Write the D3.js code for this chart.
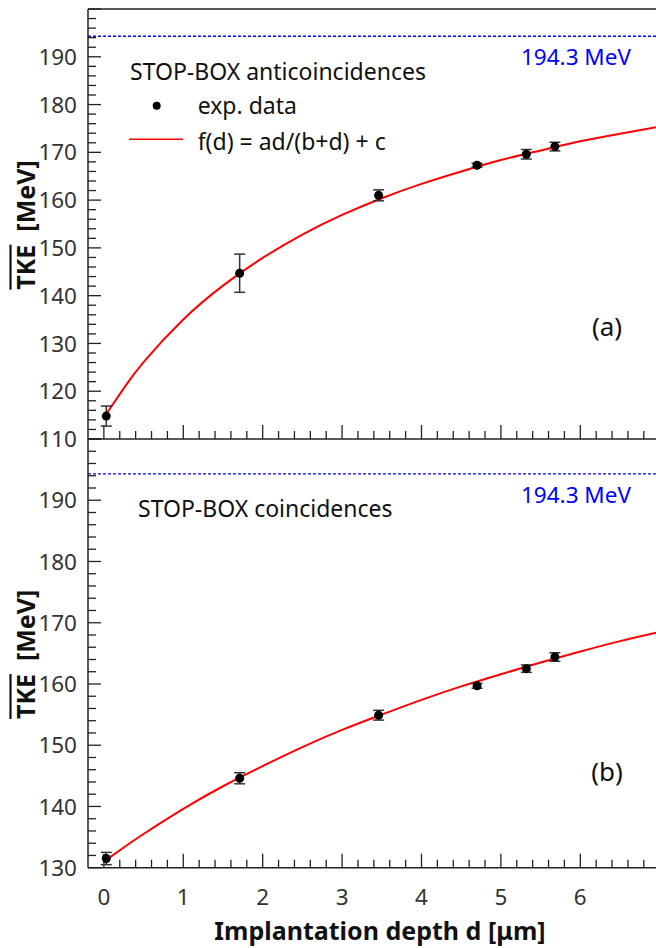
<!DOCTYPE html>
<html>
<head>
<meta charset="utf-8">
<script src="https://cdn.jsdelivr.net/npm/d3@7"></script>
<style>
  html, body { margin: 0; padding: 0; background: #fff; }
  svg { display: block; }
  text { font-family: "Noto Sans", "Open Sans", sans-serif; }
</style>
</head>
<body>
<svg id="chart" width="656" height="948"></svg>
<script>
// ---------------- data ----------------
const xTickValues = [0, 1, 2, 3, 4, 5, 6];
const xTickLabels = ["0", "1", "2", "3", "4", "5", "6"];
const yTicksTop = [110, 120, 130, 140, 150, 160, 170, 180, 190];
const yTicksBottom = [130, 140, 150, 160, 170, 180, 190];

const depth = [0.03, 1.71, 3.46, 4.70, 5.32, 5.68];
// panel (a): STOP-BOX anticoincidences
const tkeAnti = [114.8, 144.7, 161.0, 167.3, 169.6, 171.2];
const errAnti = [2.1, 4.0, 1.15, 0.4, 1.0, 0.9];
// panel (b): STOP-BOX coincidences
const tkeCoin = [131.5, 144.6, 154.9, 159.7, 162.5, 164.4];
const errCoin = [1.0, 0.9, 0.8, 0.4, 0.6, 0.7];

// fit curves f(d) = ad/(b+d) + c
const fitDepth = [0, 0.25, 0.5, 1, 1.5, 2, 2.5, 3, 3.5, 4, 4.5, 5, 5.5, 6, 6.5, 7];
const fitAnti = [114.5, 120.6, 126.1, 135.0, 142.1, 147.9, 152.8, 156.9, 160.4, 163.4, 166.0, 168.4, 170.4, 172.3, 173.9, 175.4];
const fitCoin = [131.0, 133.3, 135.5, 139.6, 143.3, 146.6, 149.7, 152.5, 155.0, 157.4, 159.6, 161.6, 163.5, 165.3, 167.0, 168.5];

const refTKE = 194.3;
const refLabel = "194.3 MeV";

// ---------------- layout ----------------
const svg = d3.select("#chart");
const left = 88, right = 659.7;
const x = d3.scaleLinear().domain([-0.2, 7]).range([left, right]);

const panels = [
  { y: d3.scaleLinear().domain([110, 200]).range([439, 9]), ticks: yTicksTop,
    tke: tkeAnti, err: errAnti, fit: fitAnti, title: "STOP-BOX anticoincidences",
    titleX: 130, titleY: 79.5, letter: "(a)", letterY: 336, legend: true, showX: false },
  { y: d3.scaleLinear().domain([130, 200]).range([867.7, 439]), ticks: yTicksBottom,
    tke: tkeCoin, err: errCoin, fit: fitCoin, title: "STOP-BOX coincidences",
    titleX: 138, titleY: 516.5, letter: "(b)", letterY: 781, legend: false, showX: true }
];

const axisColor = "#222";
const labelColor = "#333";
const fs = 22.5;

panels.forEach((p, i) => {
  const g = svg.append("g");
  const [yBot, yTop] = p.y.range();
  const [d0, d1] = p.y.domain();

  // reference dashed line
  g.append("line")
    .attr("x1", left).attr("x2", 656)
    .attr("y1", p.y(refTKE)).attr("y2", p.y(refTKE))
    .attr("stroke", "#0000ff").attr("stroke-width", 1.3)
    .attr("stroke-dasharray", "3,2");
  g.append("text")
    .attr("x", 521).attr("y", p.y(refTKE) + 29)
    .attr("fill", "#0000ff").attr("font-size", fs)
    .text(refLabel);

  // y ticks (inward)
  const minorY = d3.range(d0, d1 + 0.001, 2);
  g.selectAll(".ytick").data(minorY).enter().append("line")
    .attr("x1", left).attr("x2", v => left + (v % 10 === 0 ? 13 : 8))
    .attr("y1", v => p.y(v)).attr("y2", v => p.y(v))
    .attr("stroke", axisColor).attr("stroke-width", 1.3);
  g.selectAll(".ylab").data(p.ticks).enter().append("text")
    .attr("x", 77).attr("y", v => p.y(v)).attr("dy", "0.36em")
    .attr("text-anchor", "end").attr("font-size", fs).attr("fill", labelColor)
    .text(v => v);

  // x ticks (inward, upward) on bottom of panel
  const minorX = d3.range(0, 7.001, 0.2);
  g.selectAll(".xtick").data(minorX).enter().append("line")
    .attr("x1", v => x(v)).attr("x2", v => x(v))
    .attr("y1", yBot).attr("y2", v => yBot - (Math.abs(v - Math.round(v)) < 1e-6 ? 14 : 8))
    .attr("stroke", axisColor).attr("stroke-width", 1.3);

  if (p.showX) {
    g.selectAll(".xlab").data(xTickValues).enter().append("text")
      .attr("x", v => x(v)).attr("y", 905)
      .attr("text-anchor", "middle").attr("font-size", fs).attr("fill", labelColor)
      .text((v, j) => xTickLabels[j]);
  }

  // fit curve
  const line = d3.line().x((d, j) => x(fitDepth[j])).y(d => p.y(d)).curve(d3.curveNatural);
  g.append("path").datum(p.fit).attr("d", line)
    .attr("fill", "none").attr("stroke", "#ff0000").attr("stroke-width", 2);

  // error bars
  const eb = g.selectAll(".eb").data(depth).enter().append("g");
  eb.append("line")
    .attr("x1", d => x(d)).attr("x2", d => x(d))
    .attr("y1", (d, j) => p.y(p.tke[j] - p.err[j])).attr("y2", (d, j) => p.y(p.tke[j] + p.err[j]))
    .attr("stroke", "#333").attr("stroke-width", 1.5);
  [-1, 1].forEach(s => {
    eb.append("line")
      .attr("x1", d => x(d) - 5.5).attr("x2", d => x(d) + 5.5)
      .attr("y1", (d, j) => p.y(p.tke[j] + s * p.err[j])).attr("y2", (d, j) => p.y(p.tke[j] + s * p.err[j]))
      .attr("stroke", "#333").attr("stroke-width", 1.5);
  });
  // points
  g.selectAll(".pt").data(depth).enter().append("circle")
    .attr("cx", d => x(d)).attr("cy", (d, j) => p.y(p.tke[j]))
    .attr("r", 4.5).attr("fill", "#000");

  // title text
  g.append("text").attr("x", p.titleX).attr("y", p.titleY)
    .attr("font-size", 23).attr("fill", "#111").text(p.title);

  if (p.legend) {
    g.append("circle").attr("cx", 156.7).attr("cy", 105.7).attr("r", 4).attr("fill", "#000");
    g.append("text").attr("x", 197.7).attr("y", 113.5).attr("font-size", 23).attr("fill", "#111").text("exp. data");
    g.append("line").attr("x1", 129).attr("x2", 183).attr("y1", 139.3).attr("y2", 139.3)
      .attr("stroke", "#ff0000").attr("stroke-width", 1.5);
    g.append("text").attr("x", 197.7).attr("y", 150).attr("font-size", 23).attr("fill", "#111").text("f(d) = ad/(b+d) + c");
  }

  // panel letter
  g.append("text").attr("x", 607).attr("y", p.letterY)
    .attr("text-anchor", "middle").attr("font-size", 26).attr("fill", "#111").text(p.letter);

  // y axis title with overline on TKE
  const cy = (yTop + yBot) / 2 + 1;
  const tg = g.append("g").attr("transform", `translate(35,${cy}) rotate(-90)`);
  const t = tg.append("text").attr("text-anchor", "middle").attr("font-size", 25)
    .attr("font-weight", "bold").attr("fill", "#111")
    .text("TKE\u00a0\u00a0[MeV]");
  const total = t.node().getComputedTextLength();
  const tkeLen = t.node().getSubStringLength(0, 3);
  tg.append("line").attr("x1", -total / 2).attr("x2", -total / 2 + tkeLen)
    .attr("y1", -24.5).attr("y2", -24.5).attr("stroke", "#111").attr("stroke-width", 2.2);
});

// axis frame lines
svg.append("line").attr("x1", left).attr("x2", 656).attr("y1", 9).attr("y2", 9)
  .attr("stroke", axisColor).attr("stroke-width", 1.5);
svg.append("line").attr("x1", left).attr("x2", 656).attr("y1", 439).attr("y2", 439)
  .attr("stroke", axisColor).attr("stroke-width", 1.5);
svg.append("line").attr("x1", left).attr("x2", 656).attr("y1", 867.7).attr("y2", 867.7)
  .attr("stroke", axisColor).attr("stroke-width", 1.5);
svg.append("line").attr("x1", left).attr("x2", left).attr("y1", 9).attr("y2", 867.7)
  .attr("stroke", axisColor).attr("stroke-width", 1.5);

// x axis title
svg.append("text").attr("x", 380).attr("y", 940).attr("text-anchor", "middle")
  .attr("font-size", 25).attr("font-weight", "bold").attr("fill", "#111")
  .text("Implantation depth d [μm]");
</script>
</body>
</html>
